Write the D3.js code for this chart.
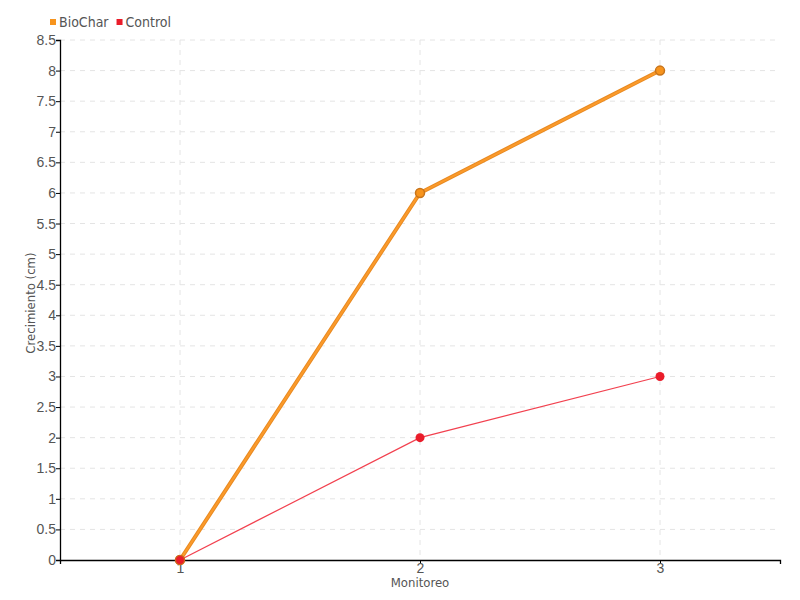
<!DOCTYPE html>
<html>
<head>
<meta charset="utf-8">
<script src="https://cdn.jsdelivr.net/npm/d3@7"></script>
<style>
  body { margin: 0; background: #fff; }
  svg { font-family: "DejaVu Sans Condensed", "DejaVu Sans", sans-serif; font-stretch: condensed; }
</style>
</head>
<body>
<div id="chart"></div>
<script>
const monitoreo = [1, 2, 3];
const biochar = [0, 6, 8];
const control = [0, 2, 3];
const yTicks = [0, 0.5, 1, 1.5, 2, 2.5, 3, 3.5, 4, 4.5, 5, 5.5, 6, 6.5, 7, 7.5, 8, 8.5];

function drawChart() {
    let width = 800;
    let height = 600;
    let margin = {left: 60, right: 20, top: 40, bottom: 40};

    let svg = d3.select("#chart")
        .append("svg")
        .attr("width", width)
        .attr("height", height);

    let x = d3.scaleLinear()
        .domain([0.5, 3.5])
        .range([margin.left, width - margin.right]);

    let y = d3.scaleLinear()
        .domain([0, 8.5])
        .range([height - margin.bottom, margin.top]);

    // grid
    svg.append("g")
        .selectAll("line")
        .data(yTicks.slice(1))
        .join("line")
        .attr("x1", margin.left)
        .attr("x2", width - margin.right)
        .attr("y1", d => y(d))
        .attr("y2", d => y(d))
        .style("stroke", "#e4e4e4")
        .style("stroke-dasharray", "5,5");

    svg.append("g")
        .selectAll("line")
        .data(monitoreo)
        .join("line")
        .attr("x1", d => x(d))
        .attr("x2", d => x(d))
        .attr("y1", margin.top)
        .attr("y2", height - margin.bottom)
        .style("stroke", "#e4e4e4")
        .style("stroke-dasharray", "5,5");

    // axes
    let yAxis = svg.append("g")
        .attr("transform", "translate(" + margin.left + ",0)")
        .call(d3.axisLeft(y).tickValues(yTicks).tickSize(4).tickFormat(d => d));
    let xAxis = svg.append("g")
        .attr("transform", "translate(0," + (height - margin.bottom) + ")")
        .call(d3.axisBottom(x).tickValues(monitoreo).tickSize(4).tickFormat(d3.format("d")));

    [xAxis, yAxis].forEach(function (a) {
        a.select(".domain").style("stroke", "#000").style("stroke-width", 1.3);
        a.selectAll(".tick line").style("stroke", "#000");
        a.selectAll("text")
            .style("font-size", "14px")
            .style("fill", "#555")
            .style("font-family", "inherit");
    });
    yAxis.selectAll("text").attr("x", -4);
    xAxis.selectAll("text").attr("y", 3);

    svg.append("text")
        .attr("x", x(2))
        .attr("y", 587)
        .attr("text-anchor", "middle")
        .style("font-size", "13px")
        .style("fill", "#555")
        .text("Monitoreo");

    svg.append("text")
        .attr("transform", "translate(35," + y(4.2) + ") rotate(-90)")
        .attr("text-anchor", "middle")
        .style("font-size", "13px")
        .style("fill", "#555")
        .text("Crecimiento (cm)");

    // lines
    let line = d3.line()
        .x((d, i) => x(monitoreo[i]))
        .y(d => y(d));

    svg.append("path")
        .datum(biochar)
        .attr("d", line)
        .attr("fill", "none")
        .style("stroke", "#e88a22")
        .style("stroke-width", 4);
    svg.append("path")
        .datum(biochar)
        .attr("d", line)
        .attr("fill", "none")
        .style("stroke", "#fb9a2a")
        .style("stroke-width", 2);

    svg.append("path")
        .datum(control)
        .attr("d", line)
        .attr("fill", "none")
        .style("stroke", "#f2414f")
        .style("stroke-width", 1.2);

    svg.append("g")
        .selectAll("circle")
        .data(biochar)
        .join("circle")
        .attr("cx", (d, i) => x(monitoreo[i]))
        .attr("cy", d => y(d))
        .attr("r", 4.5)
        .attr("fill", "#f7941d")
        .style("stroke", "#c8741a")
        .style("stroke-width", 1.5);

    svg.append("g")
        .selectAll("circle")
        .data(control)
        .join("circle")
        .attr("cx", (d, i) => x(monitoreo[i]))
        .attr("cy", d => y(d))
        .attr("r", 4.5)
        .attr("fill", "#ea1c2a")
        .style("stroke", d => d === 0 ? "#d0661c" : "none")
        .style("stroke-width", 1.2);

    // legend
    let legend = [["BioChar", "#f7941d"], ["Control", "#ea1c2a"]];
    let lx = 50;
    legend.forEach(function (l) {
        svg.append("rect")
            .attr("x", lx)
            .attr("y", 19)
            .attr("width", 6)
            .attr("height", 6)
            .attr("fill", l[1]);
        let t = svg.append("text")
            .attr("x", lx + 9)
            .attr("y", 27)
            .style("font-size", "14px")
            .style("fill", "#555")
            .text(l[0]);
        lx += t.node().getComputedTextLength() + 17;
    });
}

drawChart();
</script>
</body>
</html>
